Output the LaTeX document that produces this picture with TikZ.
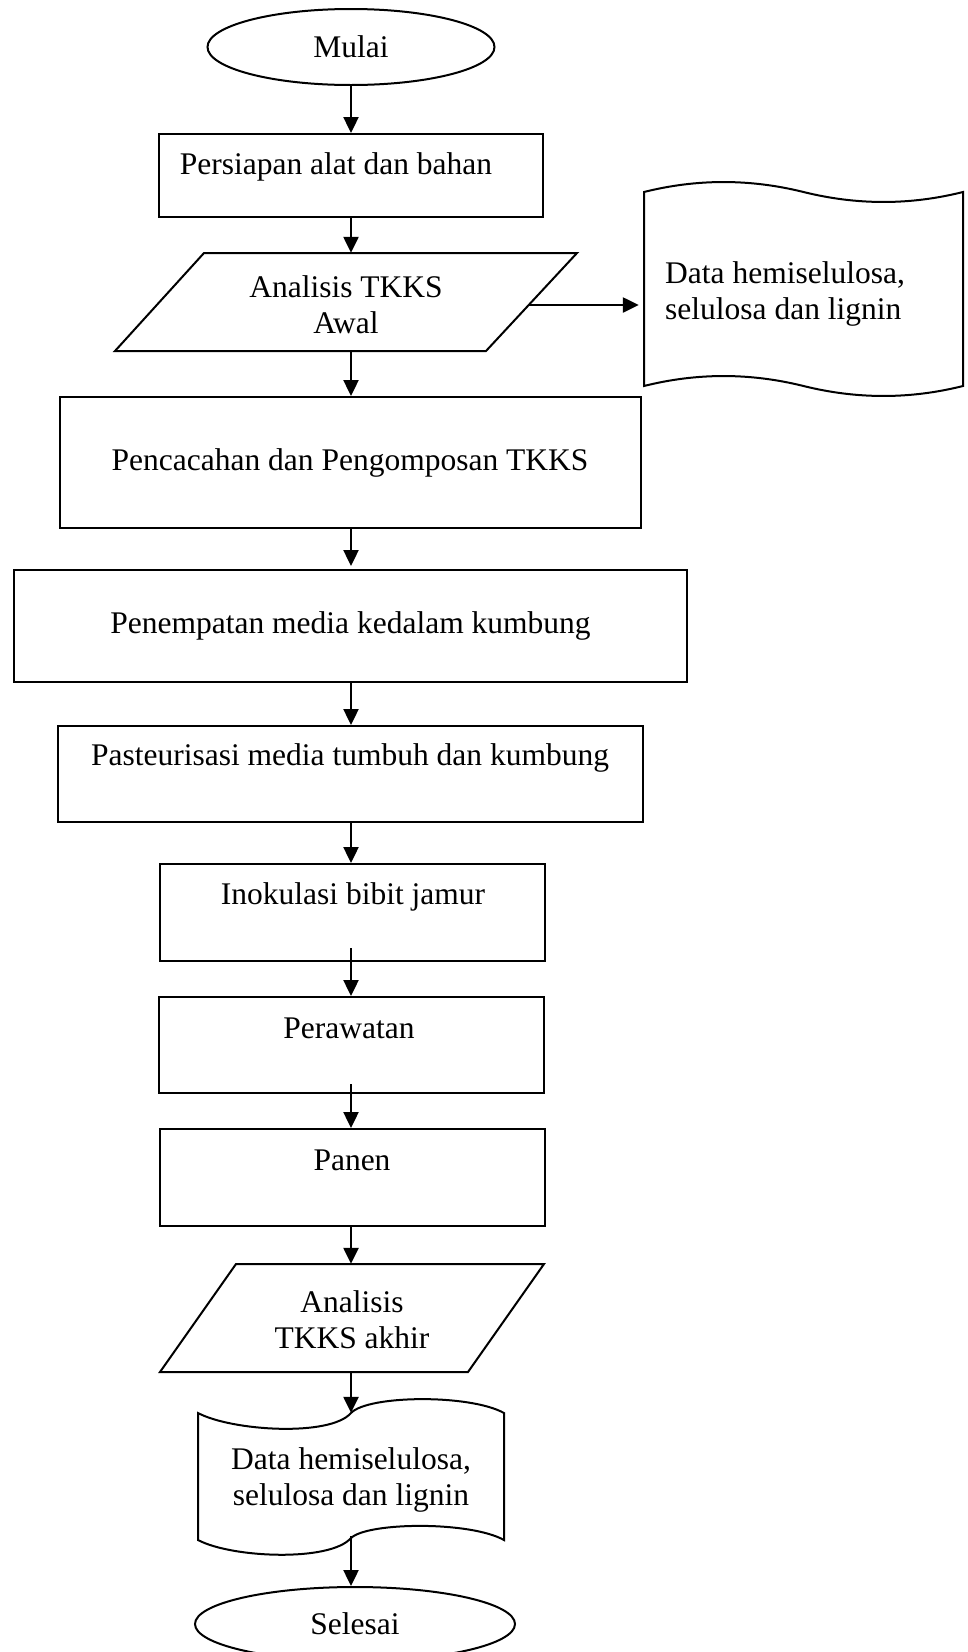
\documentclass[tikz,border=0pt]{standalone}
\usepackage{fontspec}
\setmainfont{Liberation Serif}
\usetikzlibrary{shapes.geometric,arrows.meta}
\begin{document}
\begin{tikzpicture}[x=1pt,y=-1pt,
  font=\fontsize{31.5}{36}\selectfont,
  shapeline/.style={draw=black,line width=2pt},
  box/.style={shapeline,rectangle,inner sep=0pt},
  ghost/.style={rectangle,inner sep=0pt},
  term/.style={shapeline,ellipse,inner sep=0pt},
  txt/.style={inner sep=0pt,align=center},
  arr/.style={line width=2.4pt,-{Triangle[length=16pt,width=15pt]}}]
\useasboundingbox (0,0) rectangle (967,1652);

% start
\node[term,minimum width=287pt,minimum height=76pt] (S) at (351,47) {Mulai};

% A
\node[box,minimum width=384pt,minimum height=83pt] (A) at (351,175.5) {};
\node[txt] (At) at (336,167) {Persiapan alat dan bahan};

% B parallelogram
\node[ghost,minimum width=462pt,minimum height=98pt] (B) at (351,302) {};
\draw[shapeline,line join=miter] (204,253) -- (577,253) -- (486,351) -- (115,351) -- cycle;
\node[txt] (Bt) at (346,305) {Analisis TKKS\\Awal};
\coordinate (Bright) at (529,305);

% C document (right)
\node[ghost,minimum width=319pt,minimum height=195pt] (C) at (803.5,288) {};
\draw[shapeline,line join=miter] (644,192) .. controls (697,178.7) and (750,178.7) .. (803.5,192)
  .. controls (857,205.3) and (910,205.3) .. (963,192)
  -- (963,386)
  .. controls (910,399.3) and (857,399.3) .. (803.5,386)
  .. controls (750,372.7) and (697,372.7) .. (644,386) -- cycle;
\node[txt,align=left,anchor=west] (Ct) at (665,294) {Data hemiselulosa,\\selulosa dan lignin};

% D
\node[box,minimum width=581pt,minimum height=131pt] (D) at (350,462.5) {Pencacahan dan Pengomposan TKKS};

% E
\node[box,minimum width=673pt,minimum height=112pt] (E) at (350.5,626) {Penempatan media kedalam kumbung};

% F
\node[box,minimum width=585pt,minimum height=96pt] (F) at (350,774) {};
\node[txt] (Ft) at (350,758) {Pasteurisasi media tumbuh dan kumbung};

% G
\node[box,minimum width=385pt,minimum height=97pt] (G) at (352,912.5) {};
\node[txt] (Gt) at (353,897) {Inokulasi bibit jamur};

% H
\node[box,minimum width=385pt,minimum height=96pt] (H) at (351,1045) {};
\node[txt] (Ht) at (349,1028) {Perawatan};

% I
\node[box,minimum width=385pt,minimum height=97pt] (I) at (352,1177.5) {};
\node[txt] (It) at (352,1160) {Panen};

% J parallelogram
\node[ghost,minimum width=384pt,minimum height=108pt] (J) at (352,1318) {};
\draw[shapeline,line join=miter] (236,1264) -- (544,1264) -- (468,1372) -- (160,1372) -- cycle;
\node[txt] (Jt) at (352,1320) {Analisis\\TKKS akhir};

% K document (bottom)
\node[ghost,minimum width=306pt,minimum height=127pt] (K) at (351,1476.5) {};
\draw[shapeline,line join=miter] (198,1413) .. controls (232,1431) and (330,1437) .. (351,1413)
  .. controls (368,1395) and (470,1394) .. (504,1413)
  -- (504,1540)
  .. controls (470,1521) and (368,1522) .. (351,1538)
  .. controls (330,1562) and (232,1558) .. (198,1540) -- cycle;
\node[txt] (Kt) at (351,1480) {Data hemiselulosa,\\selulosa dan lignin};

% end
\node[term,minimum width=320pt,minimum height=74pt] (L) at (355,1624) {Selesai};

% connectors
\draw[arr] (S.south) -- (S.south |- A.north);
\draw[arr] (A.south) -- (A.south |- B.north);
\draw[arr,shorten >=5pt] (Bright) -- (Bright -| C.west);
\draw[arr] (B.south) -- (B.south |- D.north);
\draw[arr,shorten >=3pt] (D.south -| B.south) -- (B.south |- E.north);
\draw[arr] (E.south -| B.south) -- (B.south |- F.north);
\draw[arr] (F.south -| B.south) -- (B.south |- G.north);
\draw[arr] ([yshift=14pt]G.south -| B.south) -- (B.south |- H.north);
\draw[arr] ([yshift=10pt]H.south -| B.south) -- (B.south |- I.north);
\draw[arr] (I.south -| B.south) -- (B.south |- J.north);
\draw[arr] (J.south -| B.south) -- (B.south |- K.north);
\draw[arr] ([yshift=4pt]K.south) -- (K.south |- L.north);
\end{tikzpicture}
\end{document}
